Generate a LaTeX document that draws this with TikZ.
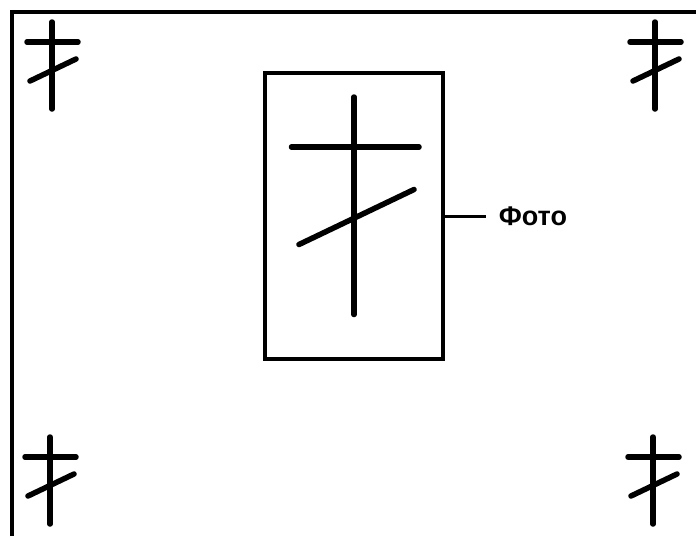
\documentclass[tikz,border=0pt]{standalone}
\usepackage{fontspec}
\setmainfont{Liberation Sans}
\usetikzlibrary{positioning}
\begin{document}
\begin{tikzpicture}[x=1pt, y=-1pt,
    frame/.style={line width=3.5pt},
    photobox/.style={rectangle, draw, line width=3.2pt, minimum width=178pt, minimum height=286pt},
    bar/.style={line width=5.5pt, line cap=round},
    leader/.style={line width=3pt},
    smallcross/.pic={
      \draw[bar] (0,0) -- (0,87);
      \draw[bar] (-25,20) -- (26,20);
      \draw[bar] (-22,59) -- (24,37);
    }
  ]
    \useasboundingbox (0,0) rectangle (696,536);

    % Rahmen
    \draw[frame] (12,536) -- (12,12) -- (696,12);

    % Kreuze in den Ecken
    \pic at (52,22) {smallcross};
    \pic at (655,22) {smallcross};
    \pic at (50,437) {smallcross};
    \pic at (653,437) {smallcross};

    % Foto
    \node[photobox] (photo) at (354,216) {};
    \pic[scale=2.5] at (354,97) {smallcross};

    % Beschriftung
    \node[right=41pt of photo, inner xsep=13pt, inner ysep=0pt, font=\fontsize{27}{30}\selectfont\bfseries] (label) {Фото};
    \draw[leader] (photo.east) -- (label.west);
  \end{tikzpicture}
\end{document}
